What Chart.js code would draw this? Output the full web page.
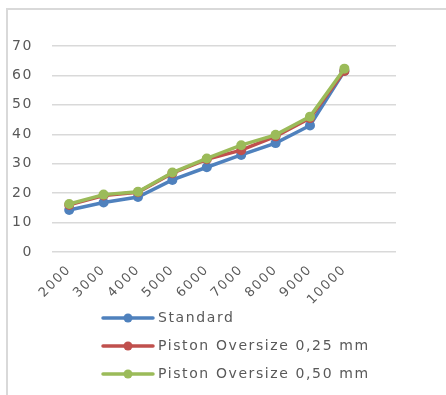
<!DOCTYPE html>
<html>
<head>
<meta charset="utf-8">
<script src="https://cdn.jsdelivr.net/npm/chart.js@4"></script>
<style>
  html, body { margin: 0; padding: 0; background: #fff; }
  #frame { position: absolute; left: 6px; top: 8px; width: 440px; height: 387px;
           border-left: 2px solid #d9d9d9; border-top: 2px solid #d9d9d9; }
  #wrap { position: absolute; left: 0; top: 0; width: 446px; height: 395px; }
</style>
</head>
<body>
<div id="frame"></div>
<div id="wrap"><canvas id="rpm-chart" width="446" height="395"></canvas></div>
<script>
// rpm categories (last slot is empty, as in the original sheet)
const rpm = ['2000', '3000', '4000', '5000', '6000', '7000', '8000', '9000', '10000', ''];
const standard = [14.3, 16.8, 18.7, 24.5, 28.8, 33.0, 37.0, 43.0, 61.5, null];
const oversize025 = [16.0, 19.2, 20.3, 26.8, 31.5, 34.6, 39.3, 45.5, 61.5, null];
const oversize050 = [16.3, 19.5, 20.5, 27.0, 31.8, 36.3, 39.8, 46.0, 62.3, null];
const yTicks = [0, 10, 20, 30, 40, 50, 60, 70];

const textColor = '#595959';
const fontFamily = 'DejaVu Sans';
const spacing = '1.6px';

// the sheet's text is rendered wide, so loosen letters a bit
const wideText = {
  id: 'wideText',
  afterInit(chart) { chart.ctx.letterSpacing = spacing; },
  beforeLayout(chart) { chart.ctx.letterSpacing = spacing; },
  beforeDraw(chart) { chart.ctx.letterSpacing = spacing; }
};

// vertical legend, Excel style, drawn under the plot
const stackedLegend = {
  id: 'stackedLegend',
  afterDraw(chart) {
    const ctx = chart.ctx;
    const x0 = 103, rowY = [318, 346, 374];
    ctx.save();
    chart.data.datasets.forEach((ds, i) => {
      const y = rowY[i];
      ctx.strokeStyle = ds.borderColor;
      ctx.lineWidth = 3.5;
      ctx.lineCap = 'round';
      ctx.beginPath();
      ctx.moveTo(x0, y);
      ctx.lineTo(x0 + 50, y);
      ctx.stroke();
      ctx.fillStyle = ds.borderColor;
      ctx.beginPath();
      ctx.arc(x0 + 25, y, 4.5, 0, Math.PI * 2);
      ctx.fill();
      ctx.fillStyle = textColor;
      ctx.font = '14px "' + fontFamily + '"';
      ctx.letterSpacing = spacing;
      ctx.textBaseline = 'middle';
      ctx.fillText(ds.label, x0 + 55, y);
    });
    ctx.restore();
  }
};

new Chart(document.getElementById('rpm-chart'), {
  type: 'line',
  data: {
    labels: rpm,
    datasets: [{
      label: 'Standard',
      data: standard,
      borderColor: '#4F81BD',
      backgroundColor: '#4F81BD',
      order: 3
    }, {
      label: 'Piston Oversize 0,25 mm',
      data: oversize025,
      borderColor: '#C0504D',
      backgroundColor: '#C0504D',
      order: 2
    }, {
      label: 'Piston Oversize 0,50 mm',
      data: oversize050,
      borderColor: '#9BBB59',
      backgroundColor: '#9BBB59',
      order: 1
    }]
  },
  options: {
    responsive: false,
    animation: false,
    elements: {
      line: { borderWidth: 3.5, tension: 0 },
      point: { radius: 5, borderWidth: 0 }
    },
    layout: { padding: { top: 46, right: 50, left: 0, bottom: 0 } },
    plugins: {
      legend: { display: false },
      tooltip: { enabled: false }
    },
    scales: {
      x: {
        offset: true,
        grid: { display: false },
        border: { display: false },
        ticks: { color: textColor, font: { family: fontFamily, size: 13 }, maxRotation: 45, minRotation: 45, autoSkip: false, padding: 2 },
        afterFit(scale) { scale.height = 143; }
      },
      y: {
        min: 0,
        max: 70,
        afterBuildTicks(scale) { scale.ticks = yTicks.map(v => ({ value: v })); },
        grid: { color: '#d9d9d9', lineWidth: 1.5, drawTicks: false },
        border: { display: false },
        ticks: { color: textColor, font: { family: fontFamily, size: 14 }, padding: 19 },
        afterFit(scale) { scale.width = 52; }
      }
    }
  },
  plugins: [wideText, stackedLegend]
});
</script>
</body>
</html>
